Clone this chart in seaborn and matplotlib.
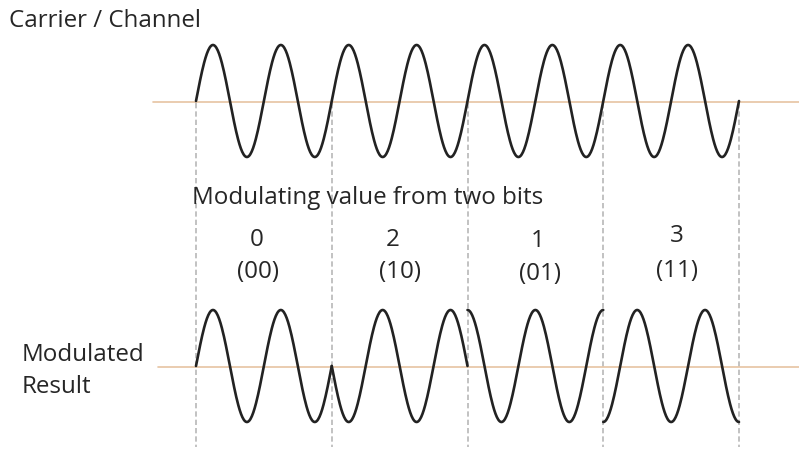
import numpy as np
import pandas as pd
import seaborn as sns
import matplotlib.pyplot as plt

# data
symbol_values = ["0", "2", "1", "3"]
bit_labels = ["(00)", "(10)", "(01)", "(11)"]
phase_deg = [0, 180, 90, 270]      # phase shift applied to each symbol
cycles_per_symbol = 2
carrier_cycles = 8

# layout (pixels of the 799x452 picture)
W, H = 799, 452
X0, X1 = 196, 739            # start / end of the waves
AMP_PX = 56
CARRIER_Y, MOD_Y = 102, 367  # wave centre lines
PX_PER_CYCLE = (X1 - X0) / carrier_cycles


def px(x, y):
    """pixel position -> data coords (cycles, amplitude units, carrier at 0)"""
    return (x - X0) / PX_PER_CYCLE, (CARRIER_Y - y) / AMP_PX


MOD_OFFSET = px(0, MOD_Y)[1]

sns.set_theme(style="white")
plt.rcParams['font.family'] = ['Open Sans', 'DejaVu Sans']

fig = plt.figure(figsize=(W / 100, H / 100), dpi=100)
ax = fig.add_axes([0, 0, 1, 1])
ax.set_xlim(px(0, 0)[0], px(W, 0)[0])
ax.set_ylim(px(0, H)[1], px(0, 0)[1])
ax.axis('off')

wave_color = "#222222"
base_color = "#e6c3a2"
dash_color = "#b8b8b8"
text_color = "#262626"

# reference lines
ax.plot([px(153, 0)[0], px(W, 0)[0]], [px(0, CARRIER_Y + 1)[1]] * 2,
        color=base_color, lw=1.2, zorder=1)
ax.plot([px(158, 0)[0], px(W, 0)[0]], [px(0, MOD_Y + 1)[1]] * 2,
        color=base_color, lw=1.2, zorder=1)

# symbol boundaries
for k in range(len(symbol_values) + 1):
    xb = k * cycles_per_symbol
    ax.plot([xb, xb], [px(0, CARRIER_Y + 2)[1], px(0, 448)[1]],
            color=dash_color, lw=1.2, ls=(0, (3.2, 1.8)), zorder=0)

# carrier
t = np.linspace(0, carrier_cycles, 800)
carrier = pd.DataFrame({"t": t, "y": np.sin(2 * np.pi * t)})
sns.lineplot(data=carrier, x="t", y="y", ax=ax, color=wave_color, lw=1.9,
             zorder=3)

# modulated result, one stroke per symbol
for k, ph in enumerate(phase_deg):
    ts = np.linspace(k * cycles_per_symbol, (k + 1) * cycles_per_symbol, 200)
    seg = pd.DataFrame({"t": ts,
                        "y": np.sin(2 * np.pi * ts + np.deg2rad(ph)) + MOD_OFFSET})
    sns.lineplot(data=seg, x="t", y="y", ax=ax, color=wave_color, lw=1.9,
                 zorder=3)

fs = 17.4
ax.text(*px(9, 27), "Carrier / Channel", fontsize=fs, color=text_color,
        ha='left', va='baseline')
ax.text(*px(192, 204), "Modulating value from two bits", fontsize=fs,
        color=text_color, ha='left', va='baseline')
ax.text(*px(22, 361), "Modulated", fontsize=fs, color=text_color,
        ha='left', va='baseline')
ax.text(*px(22, 393), "Result", fontsize=fs, color=text_color,
        ha='left', va='baseline')

val_x = [257, 393, 538, 677]
val_y = [246, 246, 247, 242]
bit_x = [258, 400, 540, 677]
bit_y = [278, 278, 280, 277]
for v, b, vx, vy, bx, by in zip(symbol_values, bit_labels, val_x, val_y, bit_x, bit_y):
    ax.text(*px(vx, vy), v, fontsize=fs, color=text_color, ha='center', va='baseline')
    ax.text(*px(bx, by), b, fontsize=fs, color=text_color, ha='center', va='baseline')

fig.savefig("out.png", dpi=100, facecolor="white")
